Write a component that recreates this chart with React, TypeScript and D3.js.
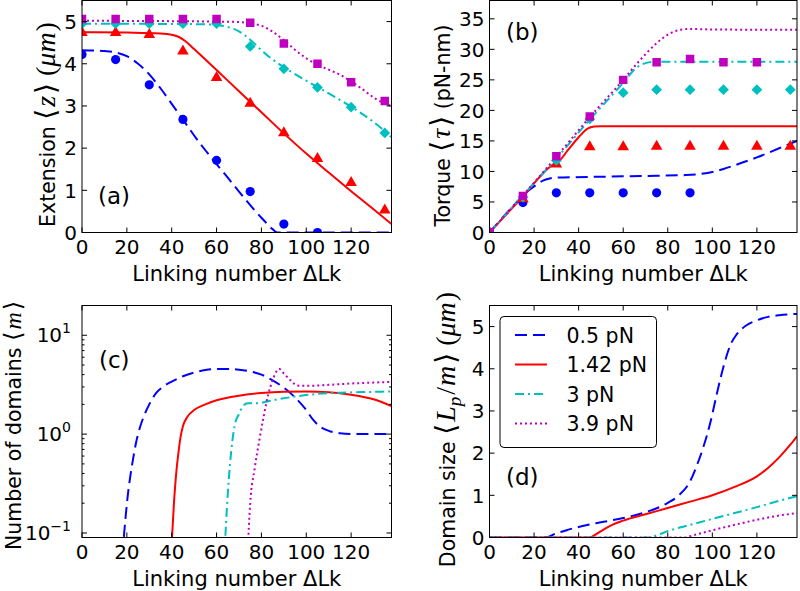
import { useEffect, useRef } from "react";
import * as d3 from "d3";

type Pt = [number, number];

// measured points are at these linking numbers
const lkPoints = [0, 15, 30, 45, 60, 75, 90, 105, 120, 135];
const lkTicks = [0, 20, 40, 60, 80, 100, 120];

const forces = ["0.5 pN", "1.42 pN", "3 pN", "3.9 pN"];

// (a) extension, data points (um)
const extBluePts = [4.22, 4.1, 3.5, 2.68, 1.71, 0.97, 0.2, 0.0];
const extRedPts = [4.74, 4.74, 4.69, 4.3, 3.67, 3.06, 2.36, 1.75, 1.18, 0.53];
const extCyanPts = [4.95, 4.95, 4.95, 4.95, 4.95, 4.41, 3.88, 3.44, 2.97, 2.36];
const extMagentaPts = [5.06, 5.06, 5.06, 5.06, 5.06, 4.97, 4.48, 4.0, 3.56, 3.12];

// (a) extension, model curves
const extBlueFit: Pt[] = [[0, 4.32], [10, 4.3], [15, 4.27], [20, 4.18], [25, 4.0], [30, 3.75], [35, 3.42], [40, 3.05], [45, 2.68], [50, 2.3], [55, 1.95], [60, 1.62], [65, 1.3], [70, 0.97], [75, 0.65], [80, 0.35], [85, 0.08], [87, 0], [138, 0]];
const extRedFit: Pt[] = [[0, 4.75], [20, 4.74], [35, 4.72], [40, 4.69], [43, 4.64], [46, 4.54], [50, 4.35], [55, 4.1], [60, 3.85], [70, 3.35], [80, 2.85], [90, 2.35], [100, 1.87], [110, 1.42], [120, 0.98], [130, 0.55], [138, 0.2]];
const extCyanFit: Pt[] = [[0, 4.95], [50, 4.94], [60, 4.92], [65, 4.87], [70, 4.77], [75, 4.57], [80, 4.32], [85, 4.1], [90, 3.92], [100, 3.6], [110, 3.3], [120, 2.98], [130, 2.62], [138, 2.26]];
const extMagentaFit: Pt[] = [[0, 5.02], [60, 5.0], [70, 4.99], [75, 4.96], [80, 4.9], [85, 4.76], [90, 4.56], [95, 4.33], [100, 4.13], [105, 3.98], [110, 3.86], [115, 3.74], [120, 3.58], [125, 3.4], [130, 3.2], [135, 3.06], [138, 3.0]];

// (b) torque, data points (pN-nm)
const torqueBluePts = [0, 4.9, 6.5, 6.5, 6.5, 6.5, 6.5];
const torqueRedPts = [0, 5.5, 11.2, 14.0, 14.0, 14.1, 14.1, 14.1, 14.1, 14.1];
const torqueCyanPts = [0, 5.8, 11.8, 18.6, 22.9, 23.4, 23.4, 23.4, 23.4, 23.4];
const torqueMagentaPts = [0, 6.0, 12.5, 19.0, 25.0, 27.9, 28.4, 27.9, 27.9];

// (b) torque, model curves
const torqueBlueFit: Pt[] = [[0, 0], [10, 4.1], [15, 6.0], [18, 7.0], [21, 7.8], [24, 8.5], [27, 8.85], [30, 9.0], [45, 9.1], [60, 9.2], [75, 9.3], [88, 9.4], [95, 9.6], [100, 9.9], [105, 10.4], [110, 11.0], [120, 12.3], [130, 13.8], [138, 15.0]];
const torqueRedFit: Pt[] = [[0, 0], [15, 5.9], [28, 11.0], [31, 11.6], [35, 13.4], [40, 15.6], [44, 17.0], [47, 17.35], [50, 17.4], [138, 17.4]];
const torqueCyanFit: Pt[] = [[0, 0], [15, 6.1], [30, 12.1], [45, 18.5], [60, 24.5], [66, 27.0], [70, 27.75], [73, 27.95], [138, 27.95]];
const torqueMagentaFit: Pt[] = [[0, 0], [15, 6.1], [30, 12.4], [45, 18.9], [60, 25.0], [66, 27.6], [70, 29.2], [75, 31.0], [80, 32.4], [85, 33.15], [90, 33.35], [100, 33.25], [138, 33.2]];

// (c) number of domains
const domBlue: Pt[] = [[18, 0.06], [19.5, 0.15], [20.5, 0.25], [21.5, 0.37], [23, 0.6], [24, 0.8], [26, 1.2], [28, 1.6], [30, 2.0], [33, 2.6], [36, 3.0], [40, 3.4], [45, 3.85], [50, 4.2], [55, 4.45], [60, 4.55], [65, 4.55], [70, 4.48], [75, 4.3], [80, 4.0], [85, 3.5], [90, 2.95], [95, 2.35], [100, 1.75], [103, 1.4], [106, 1.2], [110, 1.08], [115, 1.02], [120, 1.0], [138, 1.0]];
const domRed: Pt[] = [[39.7, 0.06], [41, 0.2], [42, 0.4], [43, 0.65], [44, 0.95], [45, 1.2], [47, 1.5], [50, 1.75], [55, 2.0], [60, 2.2], [70, 2.45], [80, 2.6], [90, 2.68], [100, 2.7], [110, 2.65], [120, 2.5], [130, 2.25], [138, 1.92]];
const domCyan: Pt[] = [[63.5, 0.06], [65, 0.25], [66, 0.5], [68, 1.2], [70, 1.6], [72, 1.95], [74, 2.05], [78, 2.05], [85, 2.2], [95, 2.4], [105, 2.55], [115, 2.62], [125, 2.66], [138, 2.7]];
const domMagenta: Pt[] = [[73.8, 0.06], [75, 0.2], [77, 0.45], [79, 0.85], [81, 1.5], [83, 2.5], [85, 3.5], [87, 4.4], [88, 4.55], [90, 4.1], [93, 3.5], [96, 3.1], [100, 3.08], [110, 3.15], [120, 3.25], [130, 3.32], [138, 3.38]];

// (d) domain size (um)
const sizeBlue: Pt[] = [[0, 0], [25, 0], [30, 0.1], [35, 0.18], [40, 0.25], [50, 0.36], [60, 0.46], [70, 0.6], [80, 0.82], [85, 1.0], [90, 1.33], [93, 1.7], [96, 2.15], [99, 2.7], [102, 3.4], [105, 4.05], [108, 4.55], [111, 4.82], [115, 5.02], [120, 5.15], [125, 5.23], [130, 5.27], [138, 5.3]];
const sizeRed: Pt[] = [[0, 0], [45, 0], [47, 0.05], [50, 0.15], [55, 0.3], [60, 0.4], [70, 0.55], [80, 0.7], [90, 0.85], [100, 1.0], [110, 1.2], [120, 1.45], [125, 1.65], [130, 1.9], [135, 2.2], [138, 2.4]];
const sizeCyan: Pt[] = [[0, 0], [72, 0], [75, 0.05], [80, 0.15], [90, 0.3], [100, 0.44], [110, 0.58], [120, 0.72], [130, 0.87], [138, 0.98]];
const sizeMagenta: Pt[] = [[0, 0], [88, 0], [90, 0.03], [100, 0.17], [110, 0.3], [120, 0.42], [130, 0.52], [138, 0.58]];

const styles = [
  { color: "#0000ff", dash: "12,6", marker: d3.symbolCircle, size: 66, rot: 0 },
  { color: "#ff0000", dash: null, marker: d3.symbolTriangle, size: 58, rot: 0 },
  { color: "#00bfbf", dash: "9,4,2,4", marker: d3.symbolSquare, size: 58, rot: 45 },
  { color: "#bf00bf", dash: "2,3", marker: d3.symbolSquare, size: 72, rot: 0 },
];

const SANS = "'DejaVu Sans', sans-serif";
const MATH = "'Liberation Serif', 'DejaVu Serif', serif";

export default function App() {
  const svgRef = useRef<SVGSVGElement>(null);

  useEffect(() => {
    const svg = d3.select(svgRef.current);
    svg.selectAll("*").remove();

    // label made of plain / math pieces
    function richText(t: any, parts: any[], ms: number) {
      parts.forEach((p) => {
        const s = t.append("tspan").text(p.t);
        if (p.m) s.attr("font-family", MATH).attr("font-style", "italic").attr("font-size", ms);
        if (p.r) s.attr("font-family", MATH).attr("font-size", ms);
        if (p.dx) s.attr("dx", p.dx);
        if (p.sub) s.attr("font-size", ms * 0.68).attr("dy", 6);
        if (p.up) s.attr("dy", -6);
      });
    }

    function panel(p: any) {
      const x = d3.scaleLinear().domain([0, 138]).range([p.left, p.right]);
      const y = (p.log ? d3.scaleLog() : d3.scaleLinear()).domain(p.yDomain).range([p.bottom, p.top]);
      const clipId = "clip-" + p.id;
      svg.append("clipPath").attr("id", clipId).append("rect")
        .attr("x", p.left).attr("y", p.top)
        .attr("width", p.right - p.left).attr("height", p.bottom - p.top);
      const g = svg.append("g").attr("clip-path", `url(#${clipId})`);

      const line = d3.line<Pt>().x((d) => x(d[0])).y((d) => y(d[1])).curve(d3.curveMonotoneX);
      p.curves.forEach((c: Pt[], i: number) => {
        g.append("path").attr("d", line(c)).attr("fill", "none")
          .attr("stroke", styles[i].color).attr("stroke-width", 2)
          .attr("stroke-dasharray", styles[i].dash);
      });
      (p.points || []).forEach((vals: number[], i: number) => {
        const st = styles[i];
        vals.forEach((v, j) => {
          g.append("path").attr("d", d3.symbol(st.marker, st.size)())
            .attr("transform", `translate(${x(lkPoints[j])},${y(v)}) rotate(${st.rot})`)
            .attr("fill", st.color);
        });
      });

      // frame
      svg.append("rect").attr("x", p.left).attr("y", p.top)
        .attr("width", p.right - p.left).attr("height", p.bottom - p.top)
        .attr("fill", "none").attr("stroke", "#000").attr("stroke-width", 1);

      const ticks = svg.append("g").attr("stroke", "#000").attr("stroke-width", 1);
      lkTicks.forEach((t) => {
        const xx = x(t);
        ticks.append("line").attr("x1", xx).attr("x2", xx).attr("y1", p.bottom).attr("y2", p.bottom - 5);
        ticks.append("line").attr("x1", xx).attr("x2", xx).attr("y1", p.top).attr("y2", p.top + 5);
        svg.append("text").attr("x", xx).attr("y", p.bottom + 21).attr("text-anchor", "middle")
          .attr("font-family", SANS).attr("font-size", 20).text(t);
      });
      p.yTicks.forEach((t: number) => {
        const yy = y(t);
        ticks.append("line").attr("x1", p.left).attr("x2", p.left + 5).attr("y1", yy).attr("y2", yy);
        ticks.append("line").attr("x1", p.right).attr("x2", p.right - 5).attr("y1", yy).attr("y2", yy);
      });
      (p.minor || []).forEach((t: number) => {
        const yy = y(t);
        ticks.append("line").attr("x1", p.left).attr("x2", p.left + 2.5).attr("y1", yy).attr("y2", yy);
        ticks.append("line").attr("x1", p.right).attr("x2", p.right - 2.5).attr("y1", yy).attr("y2", yy);
      });
      p.yTicks.forEach((t: number) => {
        const tx = svg.append("text").attr("y", y(t)).attr("dy", "0.36em")
          .attr("text-anchor", "end").attr("font-family", SANS).attr("font-size", 20);
        if (p.log) {
          tx.attr("x", p.left - 11);
          tx.append("tspan").text("10");
          tx.append("tspan").attr("font-size", 14).attr("dy", -9).text(Math.round(Math.log10(t)).toString().replace("-", "\u2212"));
        } else {
          tx.attr("x", p.left - 5).text(t);
        }
      });

      svg.append("text").attr("x", (p.left + p.right) / 2).attr("y", p.bottom + 48.5)
        .attr("text-anchor", "middle").attr("font-family", SANS).attr("font-size", 21)
        .text("Linking number \u0394Lk");

      const yl = svg.append("text")
        .attr("transform", `translate(${p.labelX},${(p.top + p.bottom) / 2 + (p.labelShift || 0)}) rotate(-90)`)
        .attr("text-anchor", "middle").attr("font-family", SANS).attr("font-size", 20.5);
      richText(yl, p.yLabel, p.mathSize || 28);

      svg.append("text").attr("x", p.tagX).attr("y", p.tagY)
        .attr("font-family", SANS).attr("font-size", 23).text(p.tag);
    }

    const top = { top: 0.5, bottom: 232.5 };
    const bot = { top: 305.5, bottom: 537.5 };
    const lcol = { left: 82, right: 391.5 };
    const rcol = { left: 489.5, right: 797 };

    panel({
      id: "a", ...top, ...lcol, yDomain: [0, 5.5], yTicks: [0, 1, 2, 3, 4, 5],
      curves: [extBlueFit, extRedFit, extCyanFit, extMagentaFit],
      points: [extBluePts, extRedPts, extCyanPts, extMagentaPts],
      labelX: 54.5, labelShift: 8, tag: "(a)", tagX: 98, tagY: 204,
      yLabel: [{ t: "Extension " }, { t: "\u27E8", r: 1 }, { t: "z", m: 1, dx: 2 }, { t: "\u27E9", r: 1, dx: 2 }, { t: " (", r: 1 }, { t: "\u03BCm", m: 1 }, { t: ")", r: 1, dx: 1 }],
    });
    panel({
      id: "b", ...top, ...rcol, yDomain: [0, 38], yTicks: [0, 5, 10, 15, 20, 25, 30, 35],
      curves: [torqueBlueFit, torqueRedFit, torqueCyanFit, torqueMagentaFit],
      points: [torqueBluePts, torqueRedPts, torqueCyanPts, torqueMagentaPts],
      labelX: 450, labelShift: 9, tag: "(b)", tagX: 506, tagY: 40,
      yLabel: [{ t: "Torque " }, { t: "\u27E8", r: 1 }, { t: "\u03C4", m: 1, dx: 2 }, { t: "\u27E9", r: 1, dx: 2 }, { t: " (pN-nm)" }],
    });
    const minor: number[] = [];
    [0.1, 1, 10].forEach((d) => { for (let k = 2; k <= 9; k++) if (d * k <= 20) minor.push(d * k); });
    panel({
      id: "c", ...bot, ...lcol, log: true, yDomain: [0.09, 20], yTicks: [0.1, 1, 10], minor,
      curves: [domBlue, domRed, domCyan, domMagenta],
      labelX: 21, labelShift: 4, mathSize: 24, tag: "(c)", tagX: 99, tagY: 368,
      yLabel: [{ t: "Number of domains " }, { t: "\u27E8", r: 1 }, { t: "m", m: 1, dx: 2 }, { t: "\u27E9", r: 1, dx: 2 }],
    });
    panel({
      id: "d", ...bot, ...rcol, yDomain: [0, 5.5], yTicks: [0, 1, 2, 3, 4, 5],
      curves: [sizeBlue, sizeRed, sizeCyan, sizeMagenta],
      labelX: 455, labelShift: 8, tag: "(d)", tagX: 506, tagY: 485,
      yLabel: [{ t: "Domain size " }, { t: "\u27E8", r: 1 }, { t: "L", m: 1, dx: 2 }, { t: "p", m: 1, sub: 1 }, { t: "/", r: 1, up: 1, dx: 2 }, { t: "m", m: 1, dx: 1 }, { t: "\u27E9", r: 1, dx: 2 }, { t: " (", r: 1 }, { t: "\u03BCm", m: 1 }, { t: ")", r: 1, dx: 1 }],
    });

    // legend in panel (d)
    const lg = svg.append("g");
    lg.append("rect").attr("x", 500).attr("y", 316.5).attr("width", 156.5).attr("height", 131)
      .attr("rx", 4).attr("fill", "#fff").attr("stroke", "#000").attr("stroke-width", 1);
    forces.forEach((f, i) => {
      const cy = 335 + i * 29.5;
      lg.append("line").attr("x1", 515).attr("x2", 547).attr("y1", cy).attr("y2", cy)
        .attr("stroke", styles[i].color).attr("stroke-width", 2)
        .attr("stroke-dasharray", styles[i].dash);
      lg.append("text").attr("x", 566.5).attr("y", cy + 7.5)
        .attr("font-family", SANS).attr("font-size", 20.5).text(f);
    });
  }, []);

  return (
    <svg ref={svgRef} width={800} height={591}
      style={{ position: "absolute", left: 0, top: 0, background: "#fff" }} />
  );
}
